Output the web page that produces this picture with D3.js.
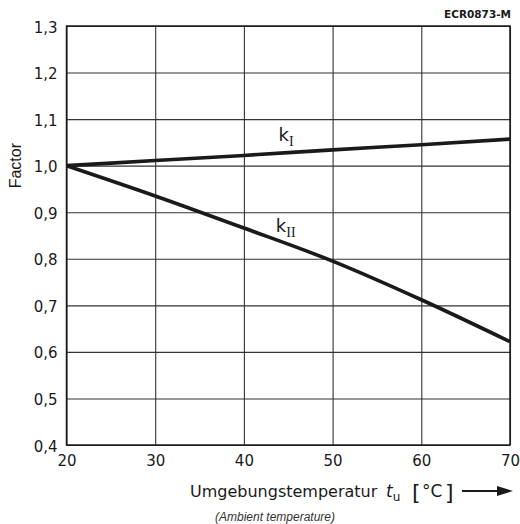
<!DOCTYPE html>
<html>
<head>
<meta charset="utf-8">
<script src="https://cdn.jsdelivr.net/npm/d3@7"></script>
<style>
  html, body { margin: 0; padding: 0; background: #fff; }
  svg { display: block; }
</style>
</head>
<body>
<svg id="chart" width="520" height="524"></svg>
<script>
// ---- data ----
const temperatures = [20, 30, 40, 50, 60, 70];
const kI  = [1.000, 1.011, 1.022, 1.034, 1.045, 1.057];
const kII = [1.000, 0.935, 0.866, 0.795, 0.712, 0.622];
const xTicks = [20, 30, 40, 50, 60, 70];
const yTicks = [0.4, 0.5, 0.6, 0.7, 0.8, 0.9, 1.0, 1.1, 1.2, 1.3];
const yTitle = "Factor";
const xTitle = "Umgebungstemperatur";
const xSubTitle = "(Ambient temperature)";
const code = "ECR0873-M";

// ---- layout ----
const svg = d3.select("#chart");
const x = d3.scaleLinear().domain([20, 70]).range([66.5, 510]);
const y = d3.scaleLinear().domain([0.4, 1.3]).range([445, 26]);
const locale = d3.formatLocale({decimal: ",", thousands: ".", grouping: [3], currency: ["", ""]});
const fmt = locale.format(".1f");
const ink = "#1a1a1a";
const tickFont = "'DejaVu Sans', sans-serif";

// grid via axes
const gx = svg.append("g")
  .attr("transform", `translate(0,${y(0.4)})`)
  .call(d3.axisBottom(x).tickValues(xTicks).tickSize(-(y(0.4) - y(1.3))).tickFormat(d3.format("d")).tickPadding(13));
const gy = svg.append("g")
  .attr("transform", `translate(${x(20)},0)`)
  .call(d3.axisLeft(y).tickValues(yTicks).tickSize(-(x(70) - x(20))).tickFormat(fmt).tickPadding(9));

[gx, gy].forEach(g => {
  g.select(".domain").remove();
  g.selectAll(".tick line").attr("stroke", "#333").attr("stroke-width", 1.1);
  g.selectAll(".tick text")
    .attr("fill", ink)
    .style("font-family", tickFont)
    .style("font-size", "15px");
});
gx.selectAll(".tick text").attr("dy", "0.5em");
gy.selectAll(".tick text").attr("dy", "0.4em");

// frame
svg.append("rect")
  .attr("x", x(20)).attr("y", y(1.3))
  .attr("width", x(70) - x(20)).attr("height", y(0.4) - y(1.3))
  .attr("fill", "none").attr("stroke", ink).attr("stroke-width", 1.5);

// curves
const line = d3.line().x(d => x(d[0])).y(d => y(d[1])).curve(d3.curveMonotoneX);
[kI, kII].forEach(series => {
  svg.append("path")
    .datum(temperatures.map((t, i) => [t, series[i]]))
    .attr("d", line)
    .attr("fill", "none")
    .attr("stroke", ink)
    .attr("stroke-width", 3.6)
    .attr("stroke-linecap", "butt");
});

// curve labels
function kLabel(px, py, sub) {
  const t = svg.append("text")
    .attr("x", px).attr("y", py)
    .attr("fill", ink)
    .style("font-family", tickFont)
    .style("font-size", "18px");
  t.append("tspan").text("k");
  t.append("tspan").attr("dy", 5).style("font-family", "'Liberation Serif', serif").style("font-size", "14px").text(sub);
}
kLabel(x(43.9), 141, "I");
kLabel(x(43.6), 232, "II");

// code at top right
svg.append("text")
  .attr("x", 511).attr("y", 18)
  .attr("text-anchor", "end")
  .attr("fill", ink)
  .style("font-family", tickFont)
  .style("font-weight", "bold")
  .style("font-size", "10.5px")
  .text(code);

// y title
svg.append("text")
  .attr("transform", `translate(21,${y(1.0)}) rotate(-90)`)
  .attr("text-anchor", "middle")
  .attr("fill", ink)
  .style("font-family", "'Liberation Sans', Arial, sans-serif")
  .style("font-size", "16px")
  .text(yTitle);

// x title
svg.append("text")
  .attr("x", 190).attr("y", 497)
  .attr("fill", ink)
  .style("font-family", tickFont)
  .style("font-size", "16px")
  .text(xTitle);
const tu = svg.append("text")
  .attr("x", 386).attr("y", 497)
  .attr("fill", ink)
  .style("font-family", tickFont)
  .style("font-size", "17px");
tu.append("tspan").style("font-style", "italic").text("t");
tu.append("tspan").attr("dy", 4).style("font-size", "12px").text("u");

svg.append("text")
  .attr("x", 412).attr("y", 500)
  .attr("fill", ink)
  .style("font-family", tickFont)
  .style("font-size", "22px")
  .text("[");
svg.append("text")
  .attr("x", 422).attr("y", 497)
  .attr("fill", ink)
  .style("font-family", tickFont)
  .style("font-size", "17px")
  .text("°C");
svg.append("text")
  .attr("x", 445).attr("y", 500)
  .attr("fill", ink)
  .style("font-family", tickFont)
  .style("font-size", "22px")
  .text("]");

// arrow
svg.append("line")
  .attr("x1", 462).attr("x2", 500).attr("y1", 491).attr("y2", 491)
  .attr("stroke", ink).attr("stroke-width", 2);
svg.append("path")
  .attr("d", "M497,486 L513,491 L497,496 Z")
  .attr("fill", ink);

// sub title
svg.append("text")
  .attr("x", 275).attr("y", 521)
  .attr("text-anchor", "middle")
  .attr("fill", "#333")
  .style("font-family", "'Liberation Sans', Arial, sans-serif")
  .style("font-style", "italic")
  .style("font-size", "12px")
  .text(xSubTitle);
</script>
</body>
</html>
